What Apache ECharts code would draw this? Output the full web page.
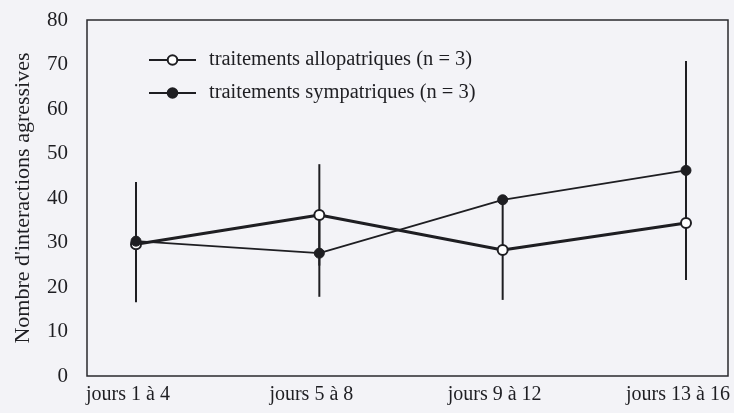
<!DOCTYPE html>
<html>
<head>
<meta charset="utf-8">
<script src="https://cdn.jsdelivr.net/npm/echarts@6/dist/echarts.min.js"></script>
<style>
  html, body { margin: 0; padding: 0; background: #f3f3f7; }
  #chart { width: 734px; height: 413px; }
</style>
</head>
<body>
<div id="chart"></div>
<script>
// Periods of observation
const categories = ['jours 1 à 4', 'jours 5 à 8', 'jours 9 à 12', 'jours 13 à 16'];

// Mean number of aggressive interactions and error (±)
const alloMean = [29.6, 36.2, 28.3, 34.4];
const alloErr  = [13.0, 11.4, 11.2, 4.0];
const symMean  = [30.3, 27.6, 39.6, 46.2];
const symErr   = [13.3, 9.8, 1.0, 24.6];

// Y axis ticks
const yTicks = [0, 10, 20, 30, 40, 50, 60, 70, 80];

const alloName = 'traitements allopatriques (n = 3)';
const symName  = 'traitements sympatriques (n = 3)';

const ink = '#1e1e22';
const font = '"Liberation Serif", "Times New Roman", serif';

function errorRange(means, errs) {
  return means.map((m, i) => [i, m - errs[i], m + errs[i]]);
}

function renderErrorBar(params, api) {
  const x = api.value(0);
  const lo = api.coord([x, api.value(1)]);
  const hi = api.coord([x, api.value(2)]);
  return {
    type: 'line',
    shape: { x1: lo[0], y1: lo[1], x2: hi[0], y2: hi[1] },
    style: { stroke: ink, lineWidth: 2 }
  };
}

const chart = echarts.init(document.getElementById('chart'), null, { renderer: 'canvas' });

chart.setOption({
  backgroundColor: '#f3f3f7',
  animation: false,
  textStyle: { fontFamily: font, color: ink },
  legend: {
    orient: 'vertical',
    left: 143,
    top: 44,
    itemWidth: 47,
    itemHeight: 12,
    itemGap: 11,
    textStyle: { fontFamily: font, fontSize: 20.5, color: ink, lineHeight: 22, padding: [0, 0, 0, 8] },
    data: [alloName, symName]
  },
  grid: [
    // outer frame with the value scale
    { left: 87, right: 6, top: 20, bottom: 37, show: true, borderColor: '#2a2a2e', borderWidth: 1.5, backgroundColor: 'transparent' },
    // plotting area spanning the four periods
    { left: 136, right: 48, top: 20, bottom: 37 }
  ],
  xAxis: [
    { gridIndex: 0, type: 'value', min: 0, max: 1, show: false },
    {
      gridIndex: 1,
      type: 'category',
      data: categories,
      boundaryGap: false,
      axisLine: { show: false },
      axisTick: { show: false },
      splitLine: { show: false },
      axisLabel: { fontFamily: font, fontSize: 20, color: ink, margin: 9, padding: [0, 16, 0, 0], interval: 0 }
    }
  ],
  yAxis: [
    {
      gridIndex: 0,
      type: 'value',
      min: yTicks[0],
      max: yTicks[yTicks.length - 1],
      interval: yTicks[1] - yTicks[0],
      name: "Nombre d'interactions agressives",
      nameLocation: 'middle',
      nameRotate: 90,
      nameGap: 53,
      nameTextStyle: { fontFamily: font, fontSize: 22, color: ink },
      axisLine: { show: false },
      axisTick: { show: false },
      splitLine: { show: false },
      axisLabel: { fontFamily: font, fontSize: 21, color: ink, margin: 19 }
    },
    { gridIndex: 1, type: 'value', min: yTicks[0], max: yTicks[yTicks.length - 1], show: false }
  ],
  series: [
    {
      type: 'custom',
      name: 'err-allo',
      xAxisIndex: 1, yAxisIndex: 1,
      renderItem: renderErrorBar,
      encode: { x: 0, y: [1, 2] },
      data: errorRange(alloMean, alloErr),
      z: 1
    },
    {
      type: 'custom',
      name: 'err-sym',
      xAxisIndex: 1, yAxisIndex: 1,
      renderItem: renderErrorBar,
      encode: { x: 0, y: [1, 2] },
      data: errorRange(symMean, symErr),
      z: 1
    },
    {
      type: 'line',
      name: alloName,
      xAxisIndex: 1, yAxisIndex: 1,
      data: alloMean,
      symbol: 'circle',
      symbolSize: 10,
      lineStyle: { color: ink, width: 3 },
      itemStyle: { color: '#ffffff', borderColor: ink, borderWidth: 2 },
      z: 2
    },
    {
      type: 'line',
      name: symName,
      xAxisIndex: 1, yAxisIndex: 1,
      data: symMean,
      symbol: 'circle',
      symbolSize: 10,
      lineStyle: { color: ink, width: 1.8 },
      itemStyle: { color: ink, borderColor: ink, borderWidth: 1 },
      z: 3
    }
  ]
});
</script>
</body>
</html>
